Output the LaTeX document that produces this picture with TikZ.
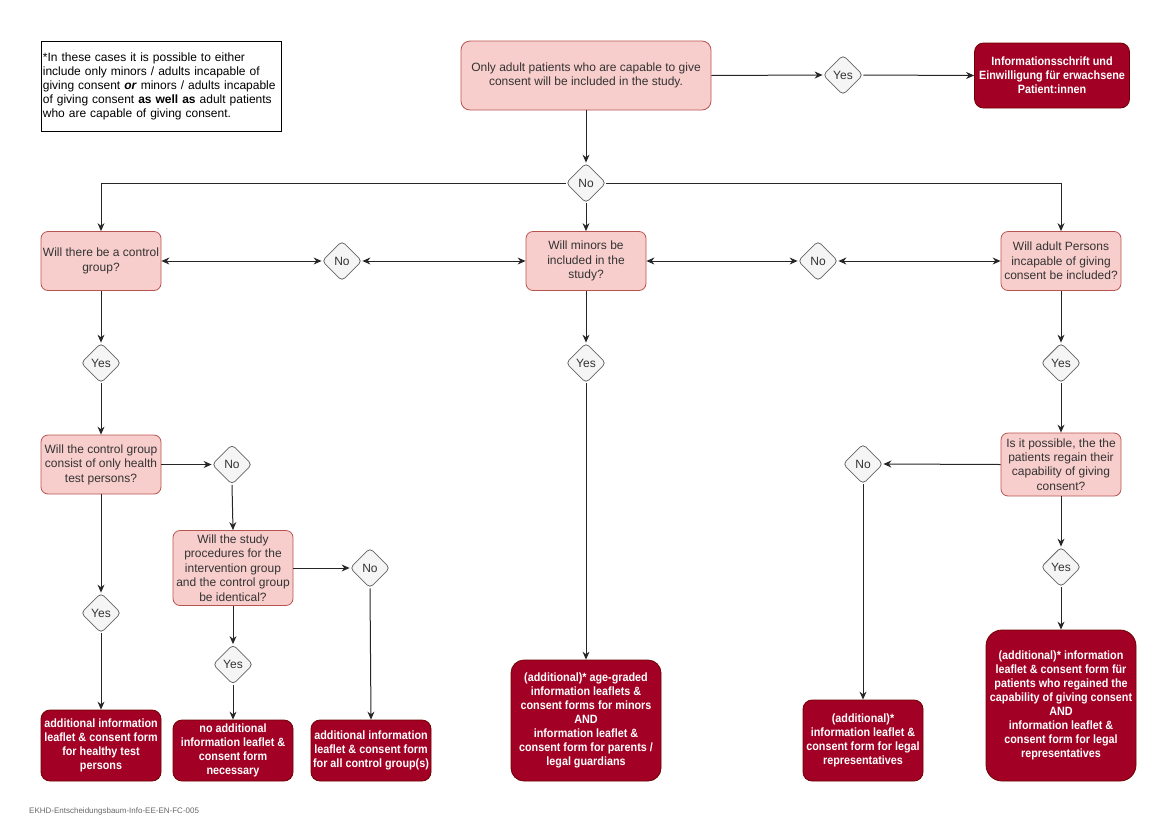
\documentclass[tikz,border=0pt]{standalone}
\usepackage{fontspec}
\setmainfont{Liberation Sans}
\newfontfamily\narrowfont[FakeStretch=0.9]{Liberation Sans}
\usepackage{xcolor}
\usepackage{tikz}
\usetikzlibrary{shapes.geometric,arrows.meta}

\definecolor{qfill}{HTML}{F8CECC}
\definecolor{qline}{HTML}{B85450}
\definecolor{rfill}{HTML}{A20025}
\definecolor{rline}{HTML}{6F0000}
\definecolor{dfill}{HTML}{F5F5F5}
\definecolor{dline}{HTML}{666666}
\definecolor{qtext}{HTML}{333333}

\tikzset{
  question/.style={draw=qline, fill=qfill, line width=0.8pt, rounded corners=7pt, text=qtext, align=center, minimum width=120pt, minimum height=59pt, inner sep=0pt, font=\fontsize{12}{14.4}\selectfont},
  outcome/.style={draw=rline, fill=rfill, line width=0.8pt, rounded corners=9pt, text=white, align=center, minimum width=120pt, inner sep=0pt, font=\narrowfont\bfseries\fontsize{12}{14}\selectfont},
  answer/.style={diamond, draw=dline, fill=dfill, line width=0.8pt, rounded corners=4pt, text=qtext, minimum width=40pt, minimum height=40pt, inner sep=0pt, font=\fontsize{12}{14}\selectfont},
  flow/.style={black!85, line width=1pt, -{Stealth[length=8pt,width=7pt]}},
  twoway/.style={black!85, line width=1pt, {Stealth[length=8pt,width=7pt]}-{Stealth[length=8pt,width=7pt]}},
}

\begin{document}
\begin{tikzpicture}[x=1pt, y=-1pt, node distance=100pt]
\useasboundingbox (0,0) rectangle (1170,828);

% note
\node[draw, line width=0.8pt, anchor=north west, minimum width=240pt, minimum height=90pt, text width=237pt, inner xsep=1.5pt, inner ysep=4pt, align=left, font=\fontsize{12}{14}\selectfont] (Note) at (41,41) {\hyphenpenalty=10000 *In these cases it is possible to either\\include only minors / adults incapable of\\giving consent \textbf{\textit{or}} minors / adults incapable\\of giving consent \textbf{as well as} adult patients\\who are capable of giving consent.};

% top row
\node[question, minimum width=250pt, minimum height=69pt, rounded corners=9pt] (OnlyAdult) at (586,75.5) {Only adult patients who are capable to give\\consent will be included in the study.};
\node[answer] (YesTop) at (843,75) {Yes};
\node[outcome, minimum width=155pt, minimum height=65pt] (AdultForm) at (1052,75.5) {Informationsschrift und\\Einwilligung für erwachsene\\Patient:innen};
\node[answer] (NoTop) at (586,183) {No};

% second row
\node[question] (Control) at (101,261) {Will there be a control\\group?};
\node[answer] (NoLeft) at (342,261) {No};
\node[question] (Minors) at (586,261) {Will minors be\\included in the\\study?};
\node[answer] (NoRight) at (818,261) {No};
\node[question] (Incapable) at (1061,261) {Will adult Persons\\incapable of giving\\consent be included?};

% left branch
\node[answer, below of=Control, yshift=-2pt] (YesControl) {Yes};
\node[question, below of=YesControl, yshift=-1.5pt] (Healthy) {Will the control group\\consist of only health\\test persons?};
\node[answer, right of=Healthy, xshift=31pt] (NoHealthy) {No};
\node[question, minimum height=75pt, below of=NoHealthy, xshift=1pt, yshift=-3.5pt] (Identical) {Will the study\\procedures for the\\intervention group\\and the control group\\be identical?};
\node[answer, right of=Identical, xshift=37pt] (NoIdentical) {No};
\node[answer, below of=Identical, yshift=3.5pt] (YesIdentical) {Yes};
\node[answer] (YesHealthy) at (101,613) {Yes};
\node[outcome, minimum height=71pt] (FormHealthy) at (101,745.5) {additional information\\leaflet \& consent form\\for healthy test\\persons};
\node[outcome, minimum height=61pt] (FormNone) at (233,750.5) {no additional\\information leaflet \&\\consent form\\necessary};
\node[outcome, minimum height=61pt] (FormAll) at (371,750.5) {additional information\\leaflet \& consent form\\for all control group(s)};

% middle branch
\node[answer, below of=Minors, yshift=-2pt] (YesMinors) {Yes};
\node[outcome, minimum width=150pt, minimum height=121pt, rounded corners=13pt] (FormMinors) at (586,720.5) {(additional)* age-graded\\information leaflets \&\\consent forms for minors\\AND\\information leaflet \&\\consent form for parents /\\legal guardians};

% right branch
\node[answer, below of=Incapable, yshift=-2pt] (YesIncapable) {Yes};
\node[question, minimum height=63pt, below of=YesIncapable, yshift=-1.5pt] (Regain) {Is it possible, the the\\patients regain their\\capability of giving\\consent?};
\node[answer] (NoRegain) at (863,464) {No};
\node[answer, below of=Regain, yshift=-2.5pt] (YesRegain) {Yes};
\node[outcome, minimum height=81pt] (FormLegal) at (863,740.5) {(additional)*\\information leaflet \&\\consent form for legal\\representatives};
\node[outcome, minimum width=150pt, minimum height=151pt, rounded corners=16pt] (FormRegain) at (1061,705.5) {(additional)* information\\leaflet \& consent form für\\patients who regained the\\capability of giving consent\\AND\\information leaflet \&\\consent form for legal\\representatives};

\node[anchor=west, inner sep=0pt, text=dline, font=\fontsize{8}{9}\selectfont] (Footer) at (29,811) {EKHD-Entscheidungsbaum-Info-EE-EN-FC-005};

% connectors
\draw[flow] (OnlyAdult.east) -- (YesTop.west);
\draw[flow] (YesTop.east) -- (AdultForm.west);
\draw[flow] (OnlyAdult.south) -- (NoTop.north);
\draw[flow] (NoTop.west) -| (Control.north);
\draw[flow] (NoTop.east) -| (Incapable.north);
\draw[flow] (NoTop.south) -- (Minors.north);
\draw[twoway] (Control.east) -- (NoLeft.west);
\draw[twoway] (NoLeft.east) -- (Minors.west);
\draw[twoway] (Minors.east) -- (NoRight.west);
\draw[twoway] (NoRight.east) -- (Incapable.west);

\draw[flow] (Control.south) -- (YesControl.north);
\draw[flow] (YesControl.south) -- (Healthy.north);
\draw[flow] (Healthy.east) -- (NoHealthy.west);
\draw[flow] (NoHealthy.south) -- (Identical.north);
\draw[flow] (Identical.east) -- (NoIdentical.west);
\draw[flow] (NoIdentical.south) -- (FormAll.north);
\draw[flow] (Identical.south) -- (YesIdentical.north);
\draw[flow] (YesIdentical.south) -- (FormNone.north);
\draw[flow] (Healthy.south) -- (YesHealthy.north);
\draw[flow] (YesHealthy.south) -- (FormHealthy.north);

\draw[flow] (Minors.south) -- (YesMinors.north);
\draw[flow] (YesMinors.south) -- (FormMinors.north);

\draw[flow] (Incapable.south) -- (YesIncapable.north);
\draw[flow] (YesIncapable.south) -- (Regain.north);
\draw[flow] (Regain.west) -- (NoRegain.east);
\draw[flow] (NoRegain.south) -- (FormLegal.north);
\draw[flow] (Regain.south) -- (YesRegain.north);
\draw[flow] (YesRegain.south) -- (FormRegain.north);
\end{tikzpicture}
\end{document}
